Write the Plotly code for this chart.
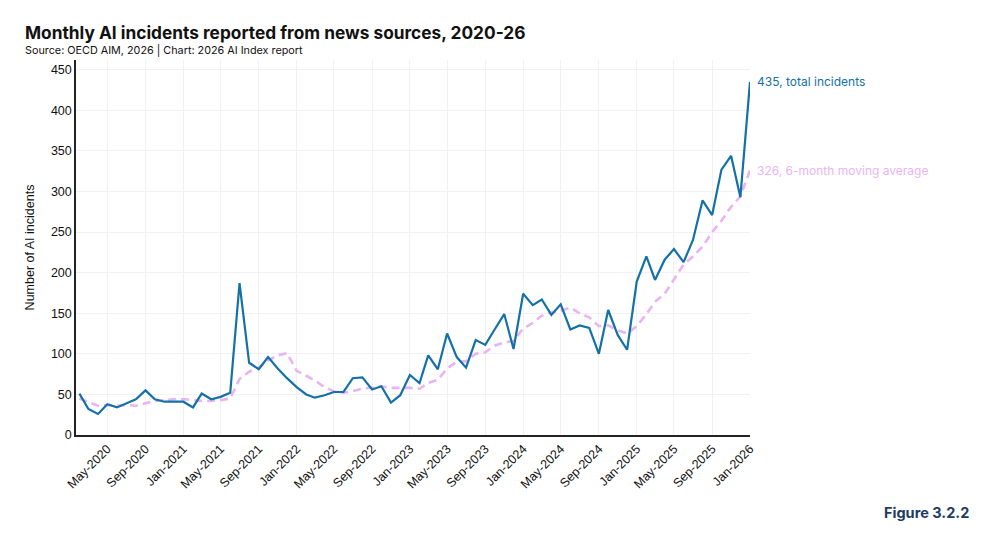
import plotly.graph_objects as go
import pandas as pd

months = pd.date_range("2020-02-01", "2026-01-01", freq="MS")

incidents = [51, 32, 26, 38, 34, 39, 44, 55, 44, 41, 41,
             41, 34, 51, 44, 47, 52, 187, 89, 81, 96, 82, 70,
             59, 50, 46, 49, 53, 53, 70, 71, 56, 60, 40, 49,
             74, 64, 98, 81, 125, 96, 83, 117, 111, 130, 149, 106,
             174, 160, 167, 148, 161, 130, 135, 132, 100, 154, 123, 105,
             189, 220, 191, 216, 229, 213, 240, 289, 271, 327, 344, 293,
             435]

moving_avg = [45, 41, 36, 37, 36, 37, 36, 39, 42, 43, 44,
              44, 43, 42, 42, 43, 45, 69, 78, 83, 92, 98, 101,
              79, 73, 67, 59, 54, 52, 54, 57, 59, 60, 58, 58,
              58, 57, 64, 68, 82, 90, 91, 100, 102, 110, 114, 116,
              131, 138, 147, 151, 153, 157, 150, 145, 134, 135, 129, 125,
              134, 149, 164, 174, 192, 210, 220, 232, 250, 264, 281, 294,
              326]

BLUE = "#1471a8"
PINK = "#e8b4f4"

# plot-area geometry in pixels
L, R, T, B = 76, 750, 60, 435
W, H = R - L, B - T


def px(xp):
    return (xp - L) / W


def py(yp):
    return (B - yp) / H


fig = go.Figure()
fig.add_trace(go.Scatter(x=months, y=moving_avg, mode="lines",
                         line=dict(color=PINK, width=2.6, dash="8px,5px"),
                         name="6-month moving average", hoverinfo="skip"))
fig.add_trace(go.Scatter(x=months, y=incidents, mode="lines",
                         line=dict(color=BLUE, width=2.2),
                         name="Total incidents"))

fig.add_annotation(x=months[-1], y=incidents[-1], text=f"{incidents[-1]}, total incidents",
                   xref="x", yref="y", xanchor="left", yanchor="middle", xshift=5,
                   showarrow=False, font=dict(family="Inter, Lato, sans-serif", size=12, color=BLUE))
fig.add_annotation(x=months[-1], y=moving_avg[-1], text=f"{moving_avg[-1]}, 6-month moving average",
                   xref="x", yref="y", xanchor="left", yanchor="middle", xshift=5,
                   showarrow=False, font=dict(family="Inter, Lato, sans-serif", size=12, color=PINK))

fig.add_annotation(x=px(23), y=py(33), xref="paper", yref="paper", xanchor="left", yanchor="middle",
                   text="<b>Monthly AI incidents reported from news sources, 2020-26</b>", showarrow=False,
                   font=dict(family="Inter, Lato, sans-serif", size=17.3, color="#111"))
fig.add_annotation(x=px(23), y=py(50), xref="paper", yref="paper", xanchor="left", yanchor="middle",
                   text="Source: OECD AIM, 2026 | Chart: 2026 AI Index report", showarrow=False,
                   font=dict(family="Inter, Lato, sans-serif", size=10.8, color="#111"))
fig.add_annotation(x=px(971), y=py(512), xref="paper", yref="paper", xanchor="right", yanchor="middle",
                   text="<b>Figure 3.2.2</b>", showarrow=False,
                   font=dict(family="Inter, Lato, sans-serif", size=14.5, color="#1d3b63"))

fig.update_layout(
    width=993, height=542,
    margin=dict(l=L, r=993 - R, t=T, b=542 - B),
    paper_bgcolor="white", plot_bgcolor="white",
    showlegend=False,
    font=dict(family="Liberation Sans, Arial, sans-serif", size=12, color="#111"),
)

fig.update_xaxes(
    range=["2020-01-21", "2026-01-01"],
    tick0="2020-05-01", dtick="M4", tickformat="%b-%Y", tickangle=-45,
    showgrid=True, gridcolor="#f1f1f1", gridwidth=1,
    showline=True, linecolor="#222", linewidth=1.5,
    ticks="", tickfont=dict(size=12.5, color="#111"),
)
fig.update_yaxes(
    range=[0, 462], dtick=50, tick0=0,
    showgrid=True, gridcolor="#f1f1f1", gridwidth=1,
    showline=True, linecolor="#222", linewidth=1.5,
    zeroline=False, ticks="", tickfont=dict(size=12.5, color="#111"),
    title=dict(text="Number of AI incidents", font=dict(size=12.5, color="#111"), standoff=14),
)

fig.write_html("out.html")
